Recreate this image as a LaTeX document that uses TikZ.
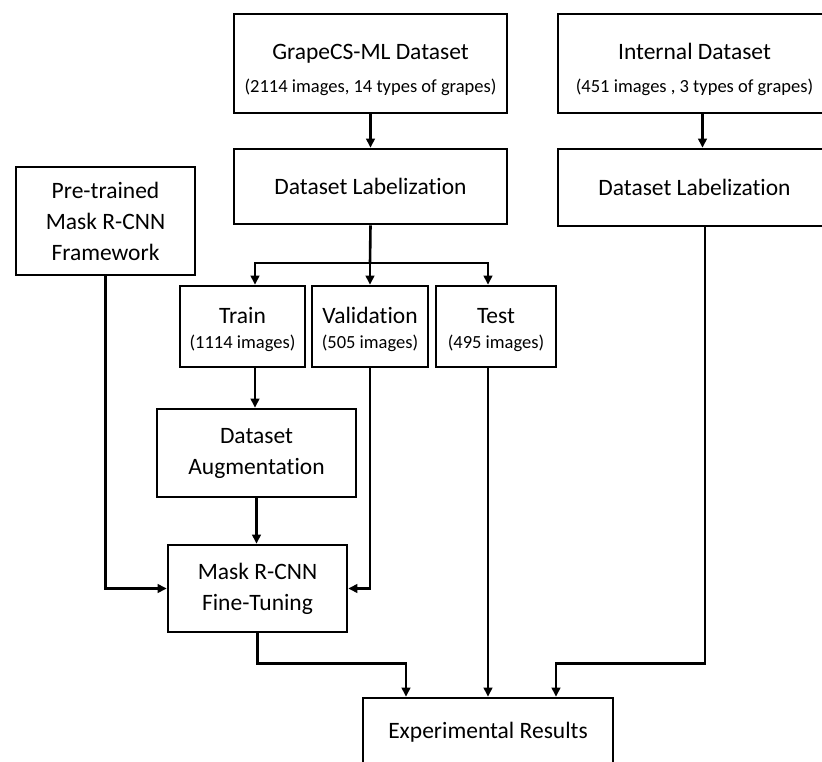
\documentclass[tikz,border=0pt]{standalone}
\usepackage{fontspec}
\setmainfont{Carlito}[Ligatures={NoCommon,NoContextual}]
\usetikzlibrary{arrows.meta,calc}
\newcommand{\ttlsz}{\fontsize{23.5}{31}\selectfont}
\newcommand{\mainsz}{\fontsize{23.5}{31}\selectfont}
\newcommand{\subsz}{\fontsize{18.5}{22}\selectfont}
\tikzset{
  box/.style={draw=black, line width=2.6pt, fill=white, align=center, inner sep=0pt, font=\mainsz},
  ttl/.style={anchor=base, inner sep=0pt, font=\ttlsz},
  mtxt/.style={anchor=base, inner sep=0pt, font=\mainsz},
  stxt/.style={anchor=base, inner sep=0pt, font=\subsz},
  arr/.style={line width=2.6pt, -{Triangle[length=9pt,width=8.5pt]}},
  ln/.style={line width=2.6pt}
}
\begin{document}
\begin{tikzpicture}[x=1pt,y=-1pt]
\useasboundingbox (0,0) rectangle (822,762);
\begin{scope}
\clip (0,0) rectangle (822,762);
\node[box, minimum width=273pt, minimum height=99pt] (gcs) at (370.5,63.5) {};
\node[ttl] (gcsT) at (370.5,60) {GrapeCS-ML Dataset};
\node[stxt] (gcsS) at (370.5,93) {(2114 images, 14 types of grapes)};
\node[box, minimum width=273pt, minimum height=75pt] (lab1) at (370.5,186.5) {Dataset Labelization};
\node[box, minimum width=273pt, minimum height=99pt] (int) at (694.5,63.5) {};
\node[ttl] (intT) at (694.5,60) {Internal Dataset};
\node[stxt] (intS) at (694.5,93) {(451 images , 3 types of grapes)};
\node[box, minimum width=273pt, minimum height=77pt] (lab2) at (694.5,187.5) {Dataset Labelization};
\node[box, minimum width=179pt, minimum height=108pt] (pre) at (105.5,221) {Pre-trained\\Mask R-CNN\\Framework};
\node[box, minimum width=125pt, minimum height=81pt] (train) at (242.5,326.5) {};
\node[mtxt] (trainT) at (242.5,323) {Train};
\node[stxt] (trainS) at (242.5,348) {(1114 images)};
\node[box, minimum width=116pt, minimum height=81pt] (val) at (370,326.5) {};
\node[mtxt] (valT) at (370,323) {Validation};
\node[stxt] (valS) at (370,348) {(505 images)};
\node[box, minimum width=120pt, minimum height=81pt] (test) at (496,326.5) {};
\node[mtxt] (testT) at (496,323) {Test};
\node[stxt] (testS) at (496,348) {(495 images)};
\node[box, minimum width=199pt, minimum height=88pt] (aug) at (256.5,453) {Dataset\\Augmentation};
\node[box, minimum width=179pt, minimum height=87pt] (ft) at (257.5,588.5) {Mask R-CNN\\Fine-Tuning};
\node[box, minimum width=250pt, minimum height=68pt] (exp) at (488,732) {Experimental Results};
\end{scope}
\coordinate (br) at (370,263);
\draw[arr] (gcs.south) -- (lab1.north);
\draw[arr] ([xshift=8pt]int.south) -- ([xshift=8pt]lab2.north);
\draw[ln] (lab1.south) -- (br);
\draw[arr] (br) -| ([xshift=12.5pt]train.north);
\draw[arr] (br) -- (val.north);
\draw[arr] (br) -| ([xshift=-8pt]test.north);
\draw[arr] ([xshift=12.5pt]train.south) -- ([xshift=12.5pt]train.south |- aug.north);
\draw[arr] (aug.south) -- (aug.south |- ft.north);
\draw[arr] (pre.south) |- (ft.west);
\draw[arr] (val.south) |- (ft.east);
\draw[arr] (ft.south) |- ($(exp.north)+(-82,-33)$) -- ([xshift=-82pt]exp.north);
\draw[arr] ([xshift=-8pt]test.south) -- (exp.north);
\draw[arr] ([xshift=10.5pt]lab2.south) |- ($(exp.north)+(68,-33)$) -- ([xshift=68pt]exp.north);
\end{tikzpicture}
\end{document}
